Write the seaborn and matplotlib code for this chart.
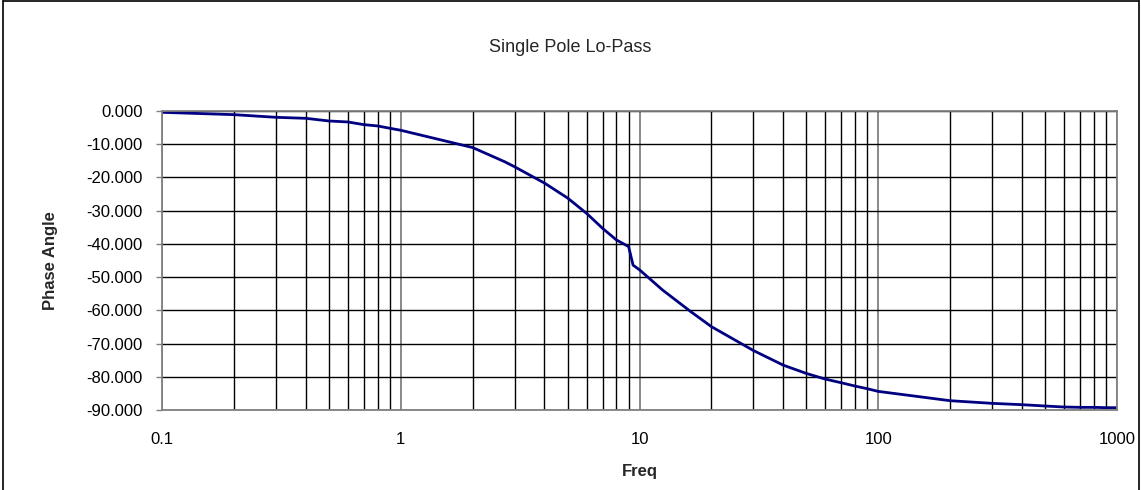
import matplotlib
matplotlib.use("Agg")
import matplotlib.pyplot as plt
import seaborn as sns
import pandas as pd
from matplotlib.lines import Line2D
from matplotlib.ticker import FixedLocator, FuncFormatter, NullFormatter

# ---- data ----
freq = [0.1, 0.2, 0.3, 0.4, 0.5, 0.6, 0.7, 0.8, 0.9,
        1, 2, 2.73, 3, 4, 5, 6, 7, 8, 9, 9.4,
        10, 12.5, 16.4, 20, 30, 40, 50, 60, 70, 80, 90,
        100, 200, 300, 400, 500, 600, 700, 800, 900, 1000]
phase = [-0.4, -1.1, -1.9, -2.2, -3.0, -3.3, -4.1, -4.5, -5.2,
         -5.8, -11.0, -15.3, -16.8, -21.7, -26.2, -30.8, -35.3, -38.8, -40.8, -46.4,
         -47.8, -53.9, -60.4, -64.9, -72.1, -76.5, -79.0, -80.7, -81.8, -82.8, -83.6,
         -84.4, -87.2, -88.0, -88.4, -88.8, -89.1, -89.2, -89.2, -89.3, -89.3]
x_major = [0.1, 1, 10, 100, 1000]
x_labels = ["0.1", "1", "10", "100", "1000"]
y_ticks = [0, -10, -20, -30, -40, -50, -60, -70, -80, -90]

title = "Single Pole Lo-Pass"
xlabel = "Freq"
ylabel = "Phase Angle"

sns.set_style("white")
plt.rcParams["font.family"] = ["Liberation Sans", "DejaVu Sans"]

df = pd.DataFrame({"Freq": freq, "Phase": phase})

fig = plt.figure(figsize=(11.41, 4.90), dpi=100)
ax = fig.add_axes([162 / 1141, 1 - 410 / 490, (1117 - 162) / 1141, (410 - 111) / 490])

ax.set_xscale("log")
ax.set_xlim(0.1, 1000)
ax.set_ylim(-90, 0)

# gridlines
minor = [m * d for d in [0.1, 1, 10, 100] for m in range(2, 10)]
for v in minor:
    ax.axvline(v, color="black", lw=1.0, zorder=1)
for v in x_major:
    ax.axvline(v, color="#808080", lw=1.3, zorder=1)
for v in y_ticks:
    ax.axhline(v, color="black", lw=1.0, zorder=1)

sns.lineplot(data=df, x="Freq", y="Phase", ax=ax, color="#000080", lw=2.0,
             zorder=3, legend=False)

ax.xaxis.set_major_locator(FixedLocator(x_major))
ax.xaxis.set_major_formatter(FuncFormatter(lambda v, p: x_labels[x_major.index(v)] if v in x_major else ""))
ax.xaxis.set_minor_locator(FixedLocator([]))
ax.xaxis.set_minor_formatter(NullFormatter())
ax.set_yticks(y_ticks)
ax.set_yticklabels([f"{v:.3f}" for v in y_ticks])

ax.tick_params(axis="x", which="major", length=0, pad=16, labelsize=12, colors="black")
ax.tick_params(axis="y", which="major", length=4, width=1, color="#808080",
               direction="out", left=True, pad=10, labelsize=12)
for lbl in ax.get_yticklabels():
    lbl.set_color("black")

for s in ax.spines.values():
    s.set_color("#808080")
    s.set_linewidth(1.3)
    s.set_zorder(4)

ax.set_xlabel(xlabel, fontsize=12, fontweight="bold", labelpad=12)
ax.set_ylabel(ylabel, fontsize=12, fontweight="bold", labelpad=20)

fig.text(0.5, 1 - 47 / 490, title, ha="center", va="center", fontsize=13)

# outer chart border (left, top, right)
fig.add_artist(Line2D([3 / 1141, 3 / 1141], [0, 1 - 1.5 / 490], color="black", lw=1.2, transform=fig.transFigure))
fig.add_artist(Line2D([3 / 1141, 1139 / 1141], [1 - 1.5 / 490, 1 - 1.5 / 490], color="black", lw=1.2, transform=fig.transFigure))
fig.add_artist(Line2D([1139 / 1141, 1139 / 1141], [0, 1 - 1.5 / 490], color="black", lw=1.2, transform=fig.transFigure))

fig.savefig("out.png", dpi=100, facecolor="white")
